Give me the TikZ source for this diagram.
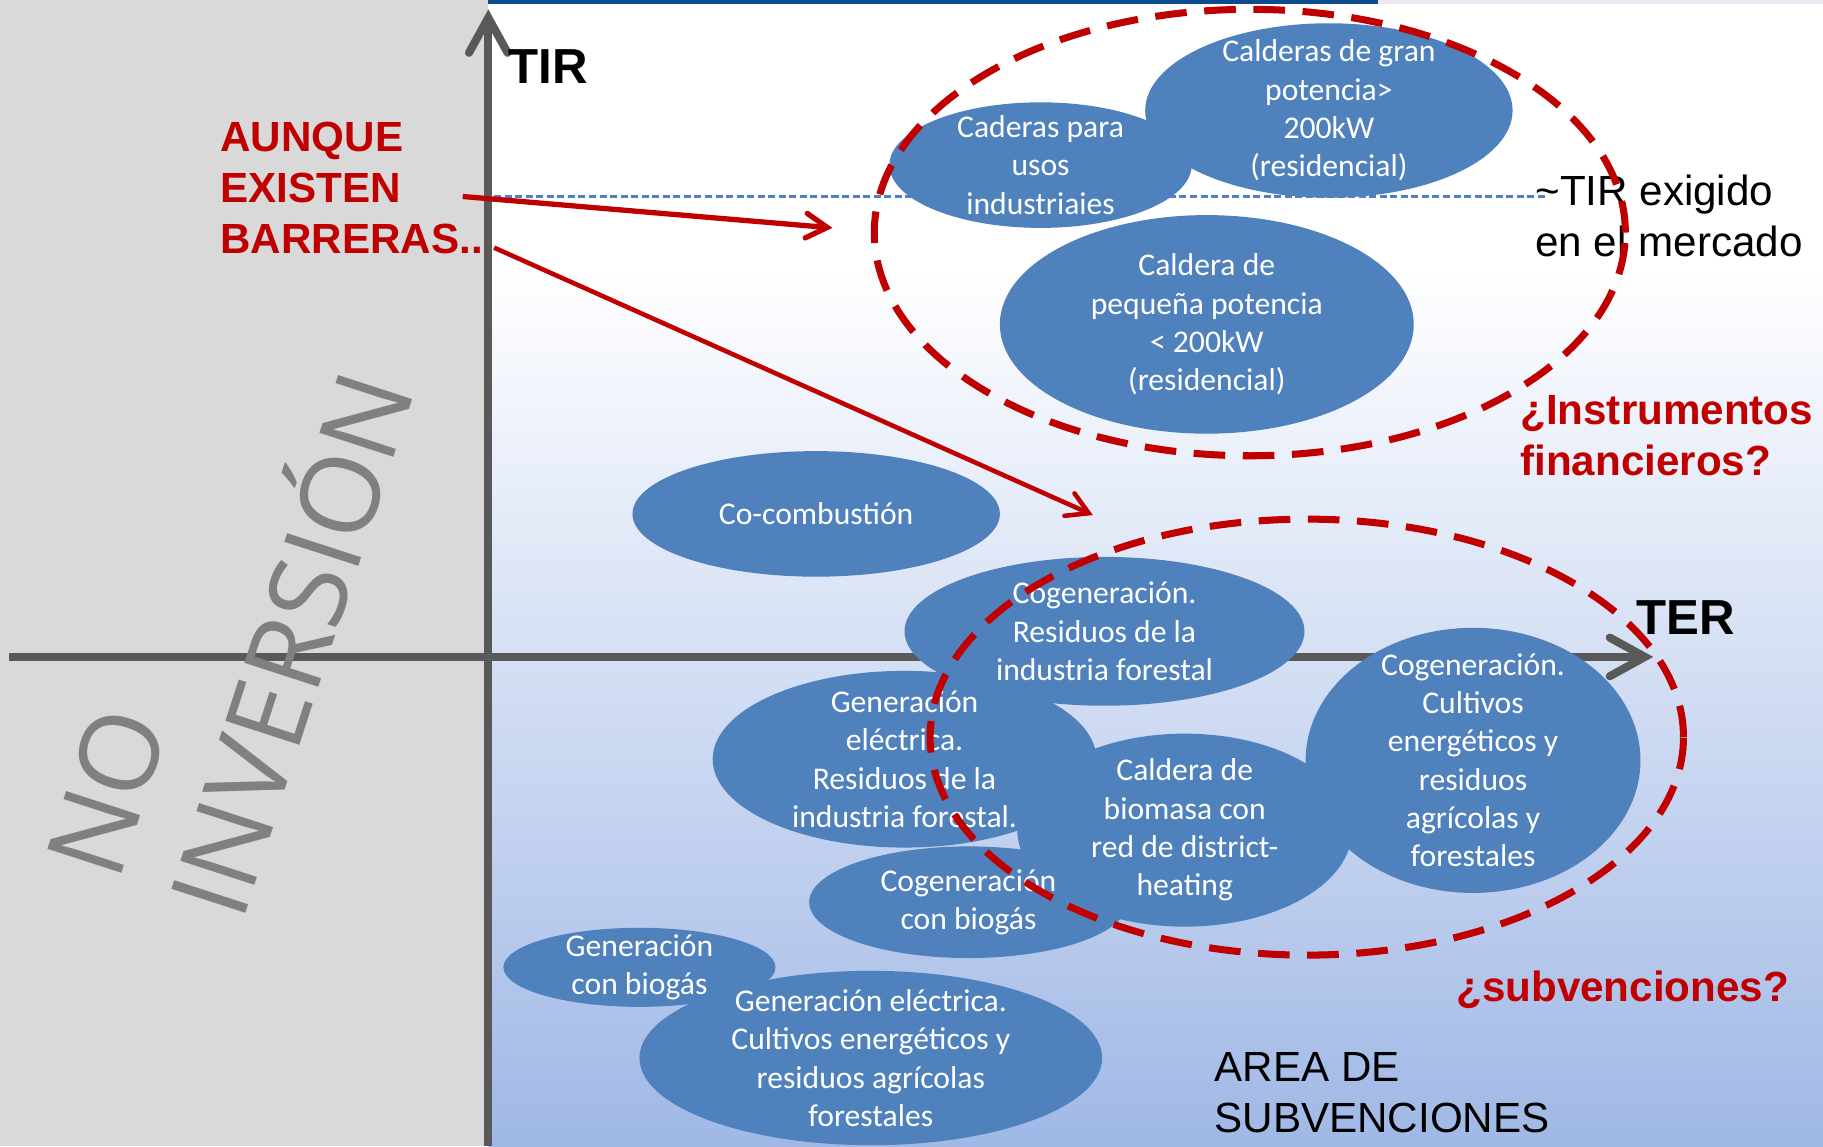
\documentclass[tikz,border=0pt]{standalone}
\usepackage{fontspec}
\setmainfont{Liberation Sans}
\newfontfamily\calibri{Carlito}
\newfontfamily\opensans{Open Sans}
\usetikzlibrary{arrows.meta, shapes.geometric, positioning}
\definecolor{blobblue}{HTML}{4F81BD}
\definecolor{darkred}{HTML}{C00000}
\definecolor{axisgray}{HTML}{595959}
\definecolor{bggray}{HTML}{D9D9D9}
\definecolor{bgblue}{HTML}{A0B8E6}
\definecolor{topblue}{HTML}{0D4C8C}
\definecolor{toplilac}{HTML}{EDE8F2}
\definecolor{wordgray}{HTML}{808080}

\begin{document}
\begin{tikzpicture}[x=0.011626cm, y=-0.011626cm,
 axis/.style={draw=axisgray, line width=2.3pt, -{Straight Barb[length=10pt,width=11pt,line cap=round]}},
 barrier/.style={draw=darkred, line width=1.5pt, -{Straight Barb[length=6pt,width=7pt,line cap=round]}},
 blob/.style 2 args={ellipse, fill=blobblue, text=white, inner sep=-3cm, align=center,
   minimum width=#1*0.011626cm, minimum height=#2*0.011626cm,
   font=\calibri\fontsize{9}{10.9}\selectfont},
 zone/.style 2 args={ellipse, draw=darkred, line width=2pt, dash pattern=on 9pt off 5pt,
   minimum width=#1*0.011626cm, minimum height=#2*0.011626cm}]
 \tikzstyle{every node}=[inner sep=0pt]
 \tikzstyle{bigword}=[font=\bfseries\fontsize{14}{16}\selectfont, anchor=west]
 \tikzstyle{note}=[font=\fontsize{12}{14.5}\selectfont, anchor=west, align=left]
 \tikzstyle{rednote}=[font=\bfseries\fontsize{12}{14.5}\selectfont, text=darkred, anchor=west, align=left]

 \useasboundingbox (0,0) rectangle (1568,986);

 % background
 \fill[bggray] (0,0) rectangle (420,986);
 \fill[white] (420,0) rectangle (1568,230);
 \shade[top color=white, bottom color=bgblue] (420,230) rectangle (1568,986);
 \fill[topblue] (420,0) rectangle (1185,3);
 \fill[toplilac] (1185,0) rectangle (1568,3);

 % axes
 \coordinate (origin) at (420,565);
 \coordinate (xstart) at (8,565);
 \coordinate (xend) at (1422,565);
 \coordinate (ybot) at (420,986);
 \coordinate (ytop) at (420,8);
 \draw[axis] (xstart) -- (xend);
 \draw[axis] (ybot) -- (ytop);

 \node[bigword] (tir) at (437,57) {TIR};
 \node[bigword] (ter) at (1407,531) {TER};

 % required return level
 \coordinate (lvlstart) at (425,169);
 \coordinate (lvlend) at (1330,169);
 \draw[blobblue, line width=0.6pt, dash pattern=on 2pt off 1pt] (lvlstart) -- (lvlend);

 % technologies
 \node[blob={260}{108}] (usos) at (895,142) {Caderas para\\usos\\industriaies};
 \node[blob={316}{150}] (gran) at (1143,95) {Calderas de gran\\potencia>\\200kW\\(residencial)};
 \node[blob={356}{188}] (peq) at (1038,279) {Caldera de\\pequeña potencia\\< 200kW\\(residencial)};
 \node[blob={316}{108}] (cocomb) at (702,442) {Co-combustión};
 \node[blob={330}{152}] (genfor) at (778,653) {Generación\\eléctrica.\\Residuos de la\\industria forestal.};
 \node[blob={344}{128}] (cogfor) at (950,543) {Cogeneración.\\Residuos de la\\industria forestal};
 \node[blob={288}{166}] (district) at (1019,714) {Caldera de\\biomasa con\\red de district-\\heating};
 \node[blob={288}{228}] (cogcult) at (1267,654) {Cogeneración.\\Cultivos\\energéticos y\\residuos\\agrícolas y\\forestales};
 \node[blob={274}{96}] (cogbio) at (833,776) {Cogeneración\\con biogás};
 \node[blob={234}{68}] (genbio) at (550,832) {Generación\\con biogás};
 \node[blob={398}{150}] (gencult) at (749,910) {Generación eléctrica.\\Cultivos energéticos y\\residuos agrícolas\\forestales};

 % texts
 \node[rednote] (barreras) at (189,162) {AUNQUE\\EXISTEN\\BARRERAS..};
 \node[note] (exigido) at (1320,186) {\textasciitilde TIR exigido\\en el mercado};
 \node[rednote] (instr) at (1307,375) {¿Instrumentos\\financieros?};
 \node[rednote] (subv) at (1252,851) {¿subvenciones?};
 \node[note] (area) at (1044,940) {AREA DE\\SUBVENCIONES};
 \node[font=\opensans\fontsize{31}{37}\selectfont, text=wordgray, align=left, rotate=72] (noinv) at (198,537) {NO\\INVERSIÓN};

 % groups
 \node[zone={646}{384}] (mercado) at (1075,200) {};
 \node[zone={648}{375}] (ayudas) at (1124,634) {};

 % arrows
 \coordinate (fromexisten) at (398,169);
 \coordinate (toupper) at (716,196);
 \coordinate (frombarr) at (425,213);
 \coordinate (tolower) at (940,443);
 \draw[barrier] (fromexisten) -- (toupper);
 \draw[barrier, line width=1.3pt] (frombarr) -- (tolower);
\end{tikzpicture}
\end{document}
